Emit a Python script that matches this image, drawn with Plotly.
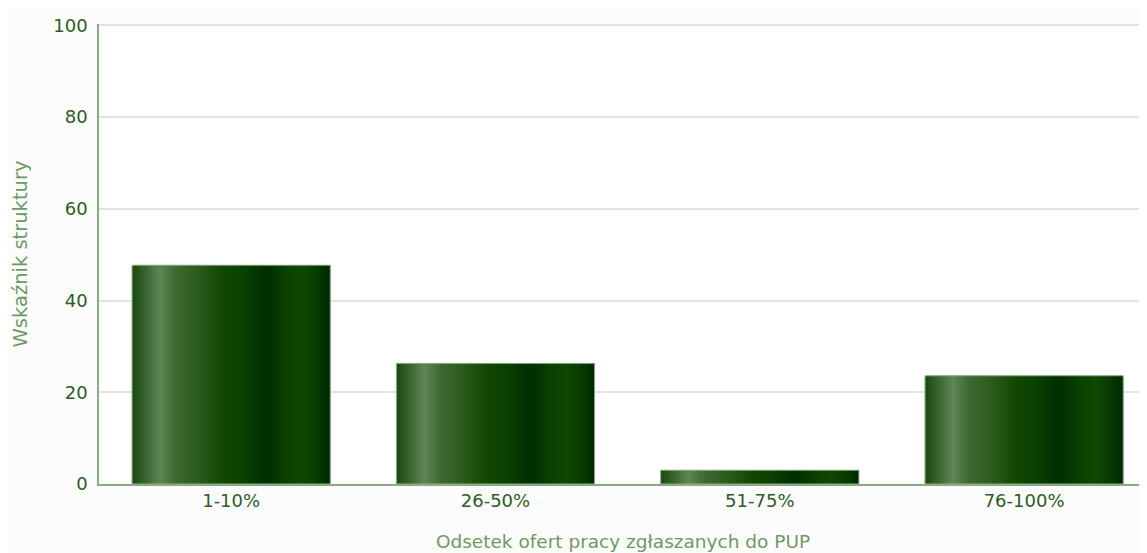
"""
Wykres słupkowy: wskaźnik struktury wg odsetka ofert pracy zgłaszanych do PUP
"""
import plotly.graph_objects as go

# dane
categories = ['1-10%', '26-50%', '51-75%', '76-100%']
values = [47.7, 26.3, 3.0, 23.6]

y_ticks = [0, 20, 40, 60, 80, 100]

# poziomy gradient słupka (pozycja 0..1, kolor)
gradient_stops = [
    (0.00, (0x1b, 0x48, 0x10)),
    (0.07, (0x3a, 0x66, 0x30)),
    (0.14, (0x60, 0x86, 0x56)),
    (0.22, (0x3e, 0x6a, 0x32)),
    (0.35, (0x2a, 0x5a, 0x1a)),
    (0.45, (0x13, 0x48, 0x00)),
    (0.55, (0x0a, 0x42, 0x00)),
    (0.68, (0x00, 0x2e, 0x00)),
    (0.78, (0x0a, 0x42, 0x00)),
    (0.86, (0x10, 0x48, 0x00)),
    (0.93, (0x07, 0x3c, 0x00)),
    (1.00, (0x00, 0x28, 0x00)),
]


def gradient_color(t):
    for (p0, c0), (p1, c1) in zip(gradient_stops[:-1], gradient_stops[1:]):
        if p0 <= t <= p1:
            k = (t - p0) / (p1 - p0) if p1 > p0 else 0
            r, g, b = [round(a + (b_ - a) * k) for a, b_ in zip(c0, c1)]
            return f'rgb({r},{g},{b})'
    return 'rgb(0,40,0)'


BAR_WIDTH = 0.75
N_STRIPES = 60
step = BAR_WIDTH / N_STRIPES

fig = go.Figure()

# słupki rysowane jako wąskie paski, żeby uzyskać gradient
for i in range(N_STRIPES):
    off = -BAR_WIDTH / 2 + i * step
    w = min(step * 2, BAR_WIDTH / 2 - off)
    fig.add_trace(go.Bar(
        x=categories,
        y=values,
        offset=off,
        width=w,
        marker_color=gradient_color((i + 0.5) / N_STRIPES),
        marker_line_width=0,
        hoverinfo='skip',
        showlegend=False,
    ))

# obrys słupków
fig.add_trace(go.Bar(
    x=categories,
    y=values,
    width=BAR_WIDTH,
    offset=-BAR_WIDTH / 2,
    marker_color='rgba(0,0,0,0)',
    marker_line=dict(color='#8fae88', width=1),
    hovertemplate='%{x}: %{y}<extra></extra>',
    showlegend=False,
))

# strona ma 8px marginesu body, stąd mniejszy rozmiar i przesunięte marginesy
fig.update_layout(
    barmode='overlay',
    width=1139,
    height=545,
    margin=dict(l=91, r=0, t=16, b=69),
    paper_bgcolor='#fcfcfc',
    plot_bgcolor='#ffffff',
    font=dict(family='DejaVu Sans', size=18, color='#2a5e22'),
    xaxis=dict(
        range=[-0.5, 3.465],
        showgrid=False,
        showline=True,
        linecolor='#8aaa82',
        linewidth=1.5,
        ticks='',
        tickfont=dict(size=18, color='#2a5e22'),
        title=dict(text='Odsetek ofert pracy zgłaszanych do PUP',
                   font=dict(size=18.5, color='#6c9a62'), standoff=25),
    ),
    yaxis=dict(
        range=[0, 100.3],
        tickvals=y_ticks,
        showgrid=True,
        gridcolor='#dfe6dd',
        gridwidth=1.5,
        showline=True,
        linecolor='#8aaa82',
        linewidth=1.5,
        zeroline=False,
        ticks='',
        ticklabelstandoff=6,
        tickfont=dict(size=18, color='#2a5e22'),
        title=dict(text='Wskaźnik struktury',
                   font=dict(size=19.5, color='#6c9a62'), standoff=20),
    ),
)

fig.write_html("out.html")
